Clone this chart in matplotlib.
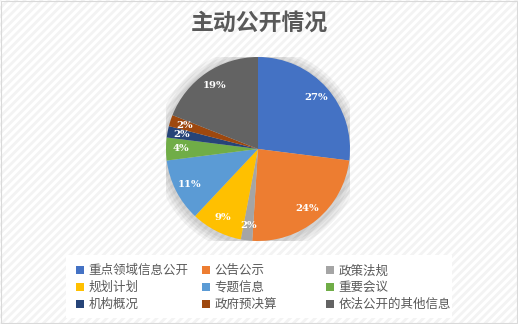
import matplotlib.pyplot as plt
from matplotlib.patches import Rectangle, Circle, Patch

plt.rcParams['font.family'] = ['Noto Sans CJK SC', 'DejaVu Sans']
plt.rcParams['hatch.linewidth'] = 2.0

categories = ['重点领域信息公开', '公告公示', '政策法规', '规划计划', '专题信息',
              '重要会议', '机构概况', '政府预决算', '依法公开的其他信息']
values = [27, 24, 2, 9, 11, 4, 2, 2, 19]
colors = ['#4472C4', '#ED7D31', '#A5A5A5', '#FFC000', '#5B9BD5',
          '#70AD47', '#264478', '#9E480E', '#636363']

W, H = 518, 324
fig = plt.figure(figsize=(W / 100, H / 100), dpi=100)

# striped background
bg = Rectangle((0, 0), 1, 1, transform=fig.transFigure, facecolor='white',
               edgecolor='#f3f3f3', hatch='////', linewidth=0, zorder=-10)
fig.patches.append(bg)
fig.patches.append(Rectangle((0.0015, 0.002), 0.997, 0.995, transform=fig.transFigure,
                             facecolor='none', edgecolor='#d9d9d9', linewidth=0.8, zorder=-9))

fig.text(0.5, 1 - 23 / H, '主动公开情况', ha='center', va='center',
         fontsize=16.5, color='#595959', fontweight='bold')

cx, cy, r = 258, 149, 92
ax = fig.add_axes([(cx - r) / W, (H - cy - r) / H, 2 * r / W, 2 * r / H])

# soft shadow
for i in range(4):
    ax.add_patch(Circle((0.0, -0.02), 1.0 + 0.03 * (i + 1), facecolor='black',
                        alpha=0.045, linewidth=0, zorder=0))

wedges, texts, autotexts = ax.pie(values, colors=colors, startangle=90, counterclock=False,
                                  autopct='%1.0f%%', pctdistance=0.84, radius=1.0,
                                  wedgeprops=dict(linewidth=0, zorder=1))
for t in autotexts:
    t.set_color('white')
    t.set_fontsize(7.3)
    t.set_fontweight('bold')
    t.set_family(['DejaVu Serif'])
ax.set_xlim(-1, 1)
ax.set_ylim(-1, 1)
ax.set_aspect('equal')
ax.axis('off')

# legend box
fig.patches.append(Rectangle((66 / W, 1 - 318 / H), 386 / W, 63 / H, transform=fig.transFigure,
                             facecolor='white', edgecolor='none', zorder=-5))
col_x = [70, 196, 320]
for j in range(3):
    handles = [Patch(facecolor=colors[k], edgecolor='none') for k in range(j, len(categories), 3)]
    labels = categories[j::3]
    fig.legend(handles, labels, loc='upper left', bbox_to_anchor=(col_x[j] / W, 1 - 258 / H),
               frameon=False, fontsize=9, handlelength=0.6, handleheight=0.6,
               handletextpad=0.4, labelspacing=0.32, borderpad=0, labelcolor='#595959')

fig.savefig('out.png', dpi=100)
